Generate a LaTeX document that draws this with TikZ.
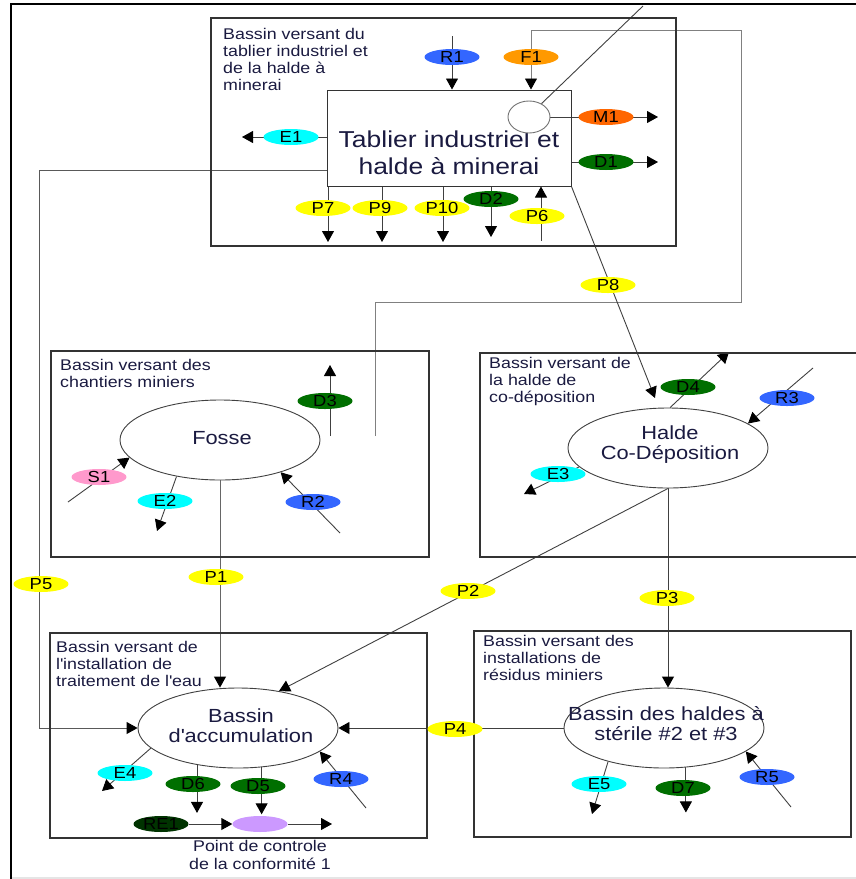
\documentclass[tikz,border=0pt]{standalone}
\usepackage{fontspec}
\setmainfont{Liberation Sans}[FakeStretch=1.15]
\usetikzlibrary{arrows.meta,shapes.geometric,calc}
\pgfdeclarelayer{bg}
\pgfsetlayers{bg,main}
\definecolor{yel}{HTML}{FFFF00}
\definecolor{rblue}{HTML}{3366FF}
\definecolor{forange}{HTML}{FF9900}
\definecolor{morange}{HTML}{FF6600}
\definecolor{dgreen}{HTML}{006F00}
\definecolor{cyn}{HTML}{00FFFF}
\definecolor{pnk}{HTML}{FF99CC}
\definecolor{reone}{HTML}{003300}
\definecolor{purp}{HTML}{CC99FF}
\definecolor{ttl}{HTML}{1A1A40}
\tikzset{
  basin/.style={draw=black!80, line width=1.2pt, inner sep=0pt},
  ttlbox/.style={anchor=north west, align=left, inner sep=0pt, text=ttl, font=\fontsize{15.5}{17}\selectfont},
  lab/.style={ellipse, inner sep=0pt, minimum width=55pt, minimum height=16pt, text=black, font=\fontsize{16}{16}\selectfont},
  big/.style={ellipse, draw=black!75, line width=0.9pt, fill=white, minimum width=200pt, minimum height=80pt, inner sep=0pt},
  bigtxt/.style={align=center, inner sep=0pt, text=ttl, font=\fontsize{19}{20}\selectfont},
  conn/.style={draw=black!75, line width=0.9pt},
  gconn/.style={draw=black!50, line width=0.9pt},
  arr/.style={conn, -{Triangle[length=11pt,width=12pt,color=black]}},
  garr/.style={gconn, -{Triangle[length=11pt,width=12pt,color=black]}},
}
\begin{document}
\begin{tikzpicture}[x=1pt,y=-1pt]
\useasboundingbox (0,0) rectangle (855,879);
% outer frame
\draw[line width=2.6pt] (10,4) -- (857,4);
\draw[line width=2.6pt] (11,3) -- (11,881);
\draw[black!10, line width=2pt] (12,878) -- (857,878);

% basins
\node[basin, minimum width=465pt, minimum height=228pt] (b1) at (443.5,132) {};
\node[basin, minimum width=378pt, minimum height=206pt] (b2) at (240,454) {};
\node[basin, minimum width=378pt, minimum height=204pt] (b3) at (669,455) {};
\node[basin, minimum width=377pt, minimum height=205pt] (b4) at (238.5,735.5) {};
\node[basin, minimum width=377pt, minimum height=206pt] (b5) at (662.5,734) {};

\node[ttlbox] (t1) at (223,28) {Bassin versant du\\tablier industriel et\\de la halde à\\minerai};
\node[ttlbox] (t2) at (60,359) {Bassin versant des\\chantiers miniers};
\node[ttlbox] (t3) at (489,357) {Bassin versant de\\la halde de\\co-déposition};
\node[ttlbox] (t4) at (56,641) {Bassin versant de\\l\textquotesingle installation de\\traitement de l\textquotesingle eau};
\node[ttlbox] (t5) at (483,635) {Bassin versant des\\installations de\\résidus miniers};

% main elements
\node[draw=black!80, line width=1pt, minimum width=244pt, minimum height=96pt, inner sep=0pt] (tab) at (449,138) {};
\node[align=center, inner sep=0pt, text=ttl, font=\fontsize{23}{27}\selectfont] (tabtxt) at (449,153) {Tablier industriel et\\halde à minerai};
\node[ellipse, draw=black!55, line width=0.9pt, fill=white, minimum width=42pt, minimum height=32pt, inner sep=0pt] (circ) at (529,117) {};

\node[big] (fosse) at (220,440) {};
\node[bigtxt] (fossetxt) at (222,438) {Fosse};
\node[big] (codep) at (668,448) {};
\node[bigtxt] (codeptxt) at (670,445) {Halde\\Co-Déposition};
\node[big] (acc) at (238,728) {};
\node[bigtxt] (acctxt) at (241,726) {Bassin\\d\textquotesingle accumulation};
\node[big] (h2) at (664,728) {};
\node[bigtxt] (h2txt) at (666,724) {Bassin des haldes à\\stérile \#2 et \#3};

% labels
\node[lab, fill=rblue] (r1) at (452,57) {R1};
\node[lab, fill=forange] (f1) at (531,57) {F1};
\node[lab, fill=morange] (m1) at (606,117) {M1};
\node[lab, fill=dgreen] (d1) at (606,162) {D1};
\node[lab, fill=cyn] (e1) at (291,137) {E1};
\node[lab, fill=yel] (p7) at (323,208) {P7};
\node[lab, fill=yel] (p9) at (380,208) {P9};
\node[lab, fill=yel] (p10) at (442,208) {P10};
\node[lab, fill=dgreen] (d2) at (491,199) {D2};
\node[lab, fill=yel] (p6) at (537,216) {P6};
\node[lab, fill=yel] (p8) at (608,285) {P8};
\node[lab, fill=dgreen] (d3) at (325,401) {D3};
\node[lab, fill=pnk] (s1) at (99,477) {S1};
\node[lab, fill=cyn] (e2) at (165,501) {E2};
\node[lab, fill=rblue] (r2) at (313,502) {R2};
\node[lab, fill=yel] (p1) at (216,577) {P1};
\node[lab, fill=yel] (p5) at (41,584) {P5};
\node[lab, fill=yel] (p2) at (468,591) {P2};
\node[lab, fill=yel] (p3) at (667,598) {P3};
\node[lab, fill=dgreen] (d4) at (688,387) {D4};
\node[lab, fill=rblue] (r3) at (787,398) {R3};
\node[lab, fill=cyn] (e3) at (558,474) {E3};
\node[lab, fill=yel] (p4) at (455,729) {P4};
\node[lab, fill=cyn] (e4) at (125,773) {E4};
\node[lab, fill=dgreen] (d6) at (193,784) {D6};
\node[lab, fill=dgreen] (d5) at (258,786) {D5};
\node[lab, fill=rblue] (r4) at (341,779) {R4};
\node[lab, fill=reone] (re1) at (161,824) {RE1};
\node[lab, fill=purp] (pt) at (260,824) {};
\node[align=center, anchor=north, inner sep=0pt, text=ttl, font=\fontsize{15.5}{18}\selectfont] (pttxt) at (260,840) {Point de controle\\de la conformité 1};
\node[lab, fill=cyn] (e5) at (599,784) {E5};
\node[lab, fill=dgreen] (d7) at (683,788) {D7};
\node[lab, fill=rblue] (r5) at (767,777) {R5};

% free ends and bends
\coordinate (r1s) at (452,36);
\coordinate (fpa) at (375,436);
\coordinate (fpb) at (375,302);
\coordinate (fpc) at (741,302);
\coordinate (fpd) at (741,30);
\coordinate (fpe) at (531,30);
\coordinate (topout) at (643,6);
\coordinate (m1e) at (658,117);
\coordinate (d1e) at (658,162);
\coordinate (e1e) at (242,137);
\coordinate (p7e) at (328,242);
\coordinate (p9e) at (382,242);
\coordinate (p10e) at (443,242);
\coordinate (d2e) at (491,237);
\coordinate (p6s) at (541,241);
\coordinate (p5b) at (39,170);
\coordinate (p8e) at (655,398);
\coordinate (s1s) at (68,502);
\coordinate (e2e) at (157,531);
\coordinate (r2s) at (340,533);
\coordinate (d3s) at (330,436);
\coordinate (d3e) at (330,365);
\coordinate (d4e) at (729,352);
\coordinate (r3s) at (813,368);
\coordinate (e3e) at (524,494);
\coordinate (e4e) at (102,791);
\coordinate (r4s) at (366,808);
\coordinate (pte) at (332,824);
\coordinate (e5e) at (592,814);
\coordinate (r5s) at (791,807);

\begin{pgfonlayer}{bg}
\draw[arr] (r1s) -- (r1s |- tab.north);
\draw[garr] (fpa) -- (fpb) -- (fpc) -- (fpd) -- (fpe) -- (fpe |- tab.north);
\draw[conn] (circ.47) -- (topout);
\draw[arr] (circ.east) -- (m1e);
\draw[arr] (d1e -| tab.east) -- (d1e);
\draw[arr] (e1e -| tab.west) -- (e1e);
\draw[arr] (p7e |- tab.south) -- (p7e);
\draw[arr] (p9e |- tab.south) -- (p9e);
\draw[arr] (p10e |- tab.south) -- (p10e);
\draw[arr] (d2e |- tab.south) -- (d2e);
\draw[arr] (p6s) -- (p6s |- tab.south);
\draw[arr, draw=black!65] (p5b -| tab.west) -- (p5b) |- (acc.west);
\draw[arr] (tab.south east) -- (p8e);
% fosse
\draw[arr] (s1s) -- (fosse.191);
\draw[arr] (fosse.220) -- (e2e);
\draw[arr] (r2s) -- (fosse.332);
\draw[arr] (d3s) -- (d3e);
\draw[arr, draw=black!60] (fosse.south) -- (fosse.south |- acc.north);
% halde co-deposition
\draw[arr] (codep.87) -- (d4e);
\draw[arr] (r3s) -- (codep.17);
\draw[arr] (codep.192) -- (e3e);
\draw[arr] (codep.south) -- (codep.south |- h2.north);
\draw[arr] (codep.south) -- (acc.42);
\draw[arr] (h2.west) -- (acc.east);
% bassin d'accumulation
\draw[arr] (acc.193) -- (e4e);
\draw[arr] (acc.222) -- ++(0,48);
\draw[arr] (acc.301) -- ++(0,47);
\draw[arr] (r4s) -- (acc.344);
\draw[arr] (re1.east) -- (pt.west);
\draw[arr] (pt.east) -- (pte);
% haldes a sterile
\draw[arr] (h2.211) -- (e5e);
\draw[arr] (h2.299) -- ++(0,45);
\draw[arr] (r5s) -- (h2.344);
\end{pgfonlayer}
\end{tikzpicture}
\end{document}
